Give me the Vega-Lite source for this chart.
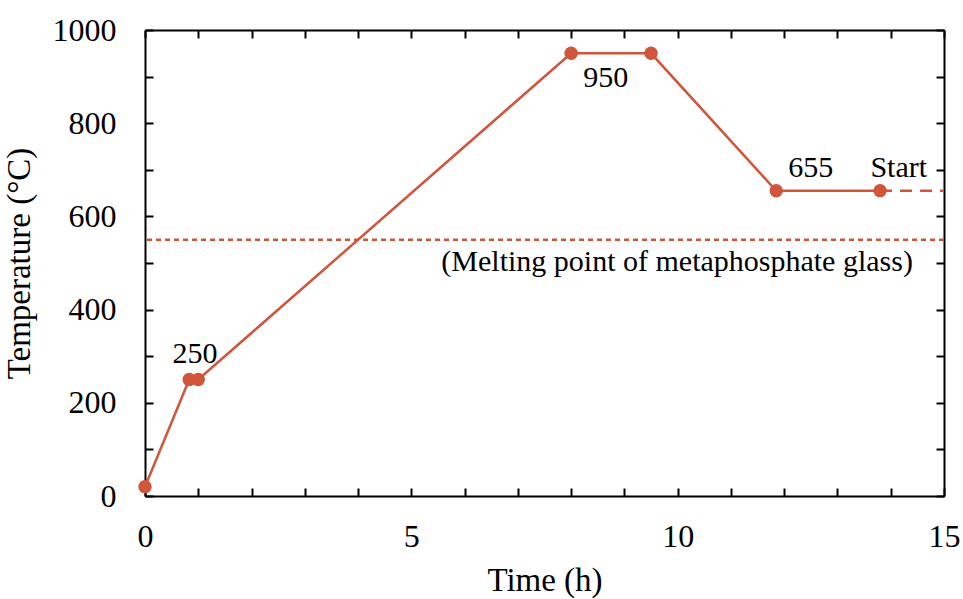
{
  "$schema": "https://vega.github.io/schema/vega-lite/v6.json",
  "autosize": "none",
  "width": 799,
  "height": 466,
  "padding": {"left": 145, "top": 30, "right": 19, "bottom": 103},
  "background": "white",
  "config": {
    "font": "Liberation Serif",
    "view": {"stroke": null},
    "axis": {"grid": false, "domainColor": "black", "tickColor": "black", "domainWidth": 2, "tickWidth": 2, "labelFont": "Liberation Serif", "titleFont": "Liberation Serif", "labelFontSize": 32, "titleFontSize": 33, "labelColor": "black", "titleColor": "black", "titleFontWeight": "normal", "labelOverlap": false, "labelFlush": false}
  },
  "datasets": {
    "profile": [
      {"time": 0, "temp": 20},
      {"time": 0.83, "temp": 250},
      {"time": 1.0, "temp": 250},
      {"time": 8.0, "temp": 950},
      {"time": 9.5, "temp": 950},
      {"time": 11.85, "temp": 655},
      {"time": 13.8, "temp": 655}
    ],
    "hold": [
      {"time": 13.8, "temp": 655},
      {"time": 15, "temp": 655}
    ],
    "melt": [{"temp": 550}],
    "labels": [
      {"time": 0.94, "temp": 285, "text": "250"},
      {"time": 8.65, "temp": 878, "text": "950"},
      {"time": 12.5, "temp": 684, "text": "655"},
      {"time": 14.15, "temp": 684, "text": "Start"},
      {"time": 9.99, "temp": 483, "text": "(Melting point of metaphosphate glass)"}
    ]
  },
  "layer": [
    {
      "data": {"name": "melt"},
      "mark": {"type": "rule", "color": "#d0553a", "strokeWidth": 2.5, "strokeDash": [5, 4]},
      "encoding": {
        "y": {"field": "temp", "type": "quantitative", "scale": {"domain": [0, 1000], "nice": false}, "axis": null}
      }
    },
    {
      "data": {"name": "hold"},
      "mark": {"type": "line", "color": "#d0553a", "strokeWidth": 2.5, "strokeDash": [12, 8]},
      "encoding": {
        "x": {"field": "time", "type": "quantitative", "scale": {"domain": [0, 15], "nice": false},
              "axis": {"orient": "top", "values": [0,1,2,3,4,5,6,7,8,9,10,11,12,13,14,15], "labels": false, "title": null, "tickSize": -8, "domain": true}},
        "y": {"field": "temp", "type": "quantitative", "scale": {"domain": [0, 1000], "nice": false},
              "axis": {"orient": "right", "values": [0,100,200,300,400,500,600,700,800,900,1000], "labels": false, "title": null, "tickSize": -8, "domain": true}}
      }
    },
    {
      "data": {"name": "profile"},
      "mark": {"type": "line", "color": "#d0553a", "strokeWidth": 2.5, "point": {"filled": true, "size": 180, "color": "#d0553a", "opacity": 1}},
      "encoding": {
        "x": {"field": "time", "type": "quantitative", "scale": {"domain": [0, 15], "nice": false},
              "axis": {"orient": "bottom", "title": "Time (h)", "values": [0,1,2,3,4,5,6,7,8,9,10,11,12,13,14,15], "labelExpr": "datum.value % 5 === 0 ? datum.label : ''", "tickSize": -8, "labelPadding": 33, "titlePadding": 12}},
        "y": {"field": "temp", "type": "quantitative", "scale": {"domain": [0, 1000], "nice": false},
              "axis": {"orient": "left", "title": "Temperature (°C)", "values": [0,100,200,300,400,500,600,700,800,900,1000], "labelExpr": "datum.value % 200 === 0 ? datum.label : ''", "format": "d", "tickSize": -8, "labelPadding": 37, "titlePadding": 16}}
      }
    },
    {
      "data": {"name": "labels"},
      "mark": {"type": "text", "font": "Liberation Serif", "fontSize": 30, "color": "black", "align": "center", "baseline": "alphabetic"},
      "encoding": {
        "x": {"field": "time", "type": "quantitative", "scale": {"domain": [0, 15], "nice": false}, "axis": null},
        "y": {"field": "temp", "type": "quantitative", "scale": {"domain": [0, 1000], "nice": false}, "axis": null},
        "text": {"field": "text"}
      }
    }
  ],
  "resolve": {"axis": {"x": "independent", "y": "independent"}}
}
